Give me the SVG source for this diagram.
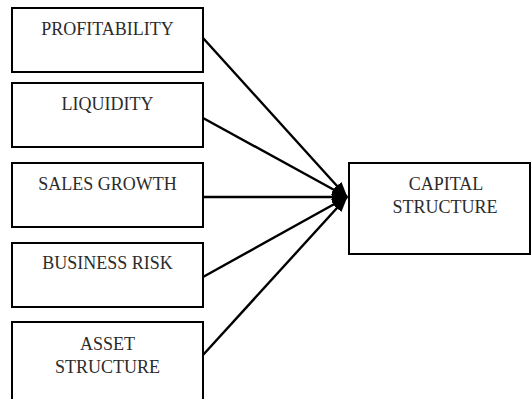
<svg xmlns="http://www.w3.org/2000/svg" width="531" height="399" viewBox="0 0 531 399">
  <style>
    .box { fill: #ffffff; stroke: #000000; stroke-width: 2; }
    .label { font-family: "Liberation Serif", "Times New Roman", serif; font-size: 18px; fill: #2b2b2b; text-anchor: middle; }
    .link { stroke: #000000; stroke-width: 2.4; fill: none; marker-end: url(#head); }
  </style>
  <defs>
    <!-- filled triangular arrowhead shared by all links -->
    <marker id="head" viewBox="0 0 16 12" refX="15" refY="6" markerWidth="16" markerHeight="12" markerUnits="userSpaceOnUse" orient="auto">
      <path d="M0,0 L16,6 L0,12 Z" fill="#000000"/>
    </marker>
  </defs>
  <rect width="531" height="399" fill="#ffffff"/>

  <g id="profitability">
    <rect class="box" x="12" y="8" width="191" height="64"/>
    <text class="label" x="107.5" y="35">PROFITABILITY</text>
  </g>
  <g id="liquidity">
    <rect class="box" x="12" y="83" width="191" height="64"/>
    <text class="label" x="107.5" y="110">LIQUIDITY</text>
  </g>
  <g id="sales-growth">
    <rect class="box" x="12" y="163" width="191" height="64"/>
    <text class="label" x="107.5" y="190">SALES GROWTH</text>
  </g>
  <g id="business-risk">
    <rect class="box" x="12" y="243" width="191" height="64"/>
    <text class="label" x="107.5" y="269">BUSINESS RISK</text>
  </g>
  <g id="asset-structure">
    <rect class="box" x="12" y="322" width="191" height="90"/>
    <text class="label" x="107.5" y="350">ASSET</text>
    <text class="label" x="107.5" y="373">STRUCTURE</text>
  </g>
  <g id="capital-structure">
    <rect class="box" x="349" y="163" width="181" height="91"/>
    <text class="label" x="446" y="190">CAPITAL</text>
    <text class="label" x="445" y="213">STRUCTURE</text>
  </g>

  <g id="connectors">
    <line class="link" x1="203" y1="38" x2="347" y2="197"/>
    <line class="link" x1="203" y1="118" x2="347" y2="197"/>
    <line class="link" x1="203" y1="197" x2="347" y2="197"/>
    <line class="link" x1="203" y1="277" x2="347" y2="197"/>
    <line class="link" x1="203" y1="355" x2="347" y2="197"/>
  </g>
</svg>
